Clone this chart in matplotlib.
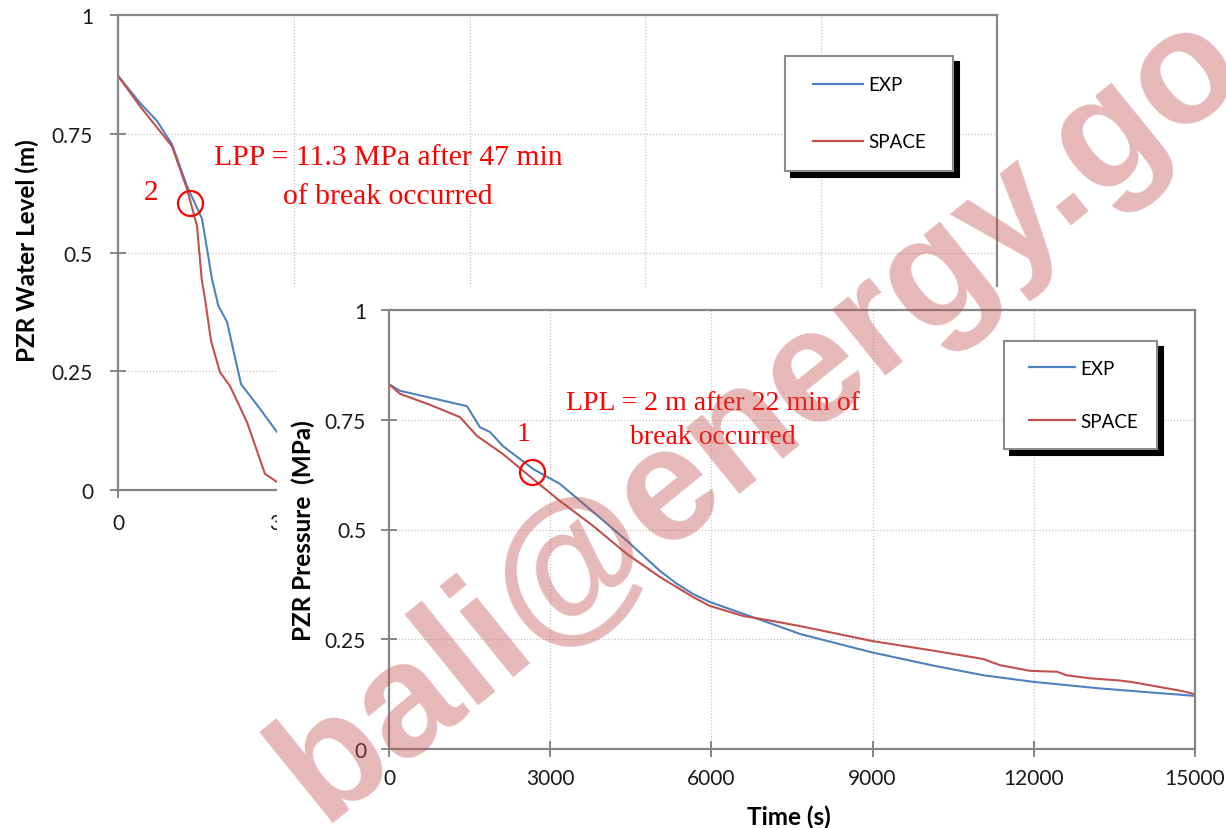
import matplotlib
matplotlib.use('Agg')
import numpy as np
import matplotlib.pyplot as plt
from matplotlib.patches import Rectangle

# Back panel: pressurizer water level
level_t_exp = [0, 375, 665, 920, 1177, 1434, 1604, 1712, 1860, 2099, 2423, 2713, 2850]
level_exp = [0.872, 0.815, 0.777, 0.728, 0.640, 0.571, 0.444, 0.388, 0.354, 0.223, 0.171, 0.122, 0.105]
level_t_space = [0, 375, 920, 1177, 1348, 1428, 1485, 1587, 1740, 1911, 2201, 2508, 2713, 2850]
level_space = [0.872, 0.808, 0.724, 0.634, 0.556, 0.444, 0.402, 0.314, 0.248, 0.219, 0.143, 0.034, 0.017, 0.012]

# Front panel: pressurizer pressure
pres_t_exp = [0, 205, 1450, 1693, 1880, 2120, 2680, 3180, 3800, 4430, 5040, 5360, 5660, 5970,
              6590, 7220, 7650, 8990, 10130, 11060, 11990, 13230, 14160, 15000]
pres_exp = [0.831, 0.816, 0.781, 0.733, 0.722, 0.690, 0.638, 0.604, 0.540, 0.474, 0.406, 0.376,
            0.353, 0.335, 0.308, 0.281, 0.262, 0.220, 0.190, 0.168, 0.153, 0.138, 0.129, 0.121]
pres_t_space = [0, 205, 763, 1320, 1640, 2120, 2680, 3180, 3800, 4430, 5040, 5660, 5970, 6590,
                7030, 7650, 8990, 10130, 11060, 11370, 11930, 12430, 12610, 13050, 13600, 13850,
                14350, 14720, 15000]
pres_space = [0.831, 0.809, 0.784, 0.756, 0.713, 0.672, 0.615, 0.565, 0.508, 0.444, 0.392, 0.346,
              0.326, 0.303, 0.294, 0.280, 0.246, 0.224, 0.205, 0.191, 0.178, 0.176, 0.168, 0.161,
              0.156, 0.152, 0.141, 0.133, 0.125]

x_ticks = [0, 3000, 6000, 9000, 12000, 15000]
y_ticks = [0, 0.25, 0.5, 0.75, 1]
y_tick_labels = ['0', '0.25', '0.5', '0.75', '1']

BLUE = '#4F81BD'
RED = '#C0504D'
AXIS_GRAY = '#868686'
W, H = 1226, 829

plt.rcParams['font.family'] = ['Lato', 'DejaVu Sans']

fig = plt.figure(figsize=(W / 100, H / 100), dpi=100)


def px_axes(left, top, right, bottom):
    return fig.add_axes([left / W, 1 - bottom / H, (right - left) / W, (bottom - top) / H])


def style_axes(ax, ypad, xpad):
    ax.set_xlim(0, 15000)
    ax.set_ylim(0, 1)
    ax.set_xticks(x_ticks)
    ax.set_yticks(y_ticks)
    ax.set_yticklabels(y_tick_labels)
    ax.grid(True, color='#c4c4c4', linestyle=(0, (1, 1.5)), linewidth=0.9)
    ax.set_axisbelow(True)
    for sp in ax.spines.values():
        sp.set_color(AXIS_GRAY)
        sp.set_linewidth(1.6)
    ax.tick_params(direction='inout', length=11, width=1.4, color=AXIS_GRAY,
                   labelsize=15, labelcolor='#1a1a1a')
    ax.tick_params(axis='y', pad=ypad)
    ax.tick_params(axis='x', pad=xpad)


def add_legend(ax, anchor, spacing, bpad, hlen, shift):
    leg = ax.legend(loc='upper left', bbox_to_anchor=anchor, mode='expand',
                    borderaxespad=0, fontsize=13.5, handlelength=hlen, handletextpad=0.27,
                    labelspacing=spacing, borderpad=bpad, fancybox=False, framealpha=1,
                    edgecolor='#8c8c8c',
                    shadow={'ox': 4.2, 'oy': -4.2, 'color': 'black', 'alpha': 1})
    leg.get_frame().set_linewidth(1.5)
    for line in leg.get_lines():
        line.set_linewidth(1.6)
        xd = np.asarray(line.get_xdata(), dtype=float)
        line.set_xdata(np.linspace(xd[0] + shift, xd[-1], len(xd)))
    return leg


# ---- back panel ----
ax1 = px_axes(118, 16, 997, 491)
style_axes(ax1, 12.5, 11)
ax1.plot(level_t_exp, level_exp, color=BLUE, lw=1.5, label='EXP')
ax1.plot(level_t_space, level_space, color=RED, lw=1.5, label='SPACE')
ax1.plot([1229], [0.604], marker='o', ms=18, mfc='none', mec='red', mew=1.6)
ax1.text(563, 0.627, '2', color='red', fontsize=21, family='Liberation Serif',
         ha='center', va='center')
ax1.text(4608, 0.701, 'LPP = 11.3 MPa after 47 min', color='red', fontsize=21.3,
         family='Liberation Serif', ha='center', va='center')
ax1.text(4608, 0.619, 'of break occurred', color='red', fontsize=21.3,
         family='Liberation Serif', ha='center', va='center')
ax1.set_ylabel('PZR Water Level (m)', fontsize=17.5, fontweight='bold', va='center')
ax1.yaxis.set_label_coords((27 - 118) / 879, 0.507)
add_legend(ax1, (0.759, 0.5, 0.191, 0.414), 2.12, 1.1, 3.06, 5.3)

# white block that the front panel sits on
fig.add_artist(Rectangle((277 / W, 0), 1 - 277 / W, 1 - 288 / H, transform=fig.transFigure,
                         facecolor='white', edgecolor='none', zorder=0.5))

# ---- front panel ----
ax2 = px_axes(389, 311, 1195, 750)
ax2.set_zorder(1)
style_axes(ax2, 11, 8)
ax2.plot(pres_t_exp, pres_exp, color=BLUE, lw=1.5, label='EXP')
ax2.plot(pres_t_space, pres_space, color=RED, lw=1.5, label='SPACE')
ax2.plot([2661], [0.631], marker='o', ms=18, mfc='none', mec='red', mew=1.6)
ax2.text(2512, 0.718, '1', color='red', fontsize=20, family='Liberation Serif',
         ha='center', va='center')
ax2.text(6030, 0.790, 'LPL = 2 m after 22 min of', color='red', fontsize=20,
         family='Liberation Serif', ha='center', va='center')
ax2.text(6030, 0.711, 'break occurred', color='red', fontsize=20,
         family='Liberation Serif', ha='center', va='center')
ax2.set_ylabel('PZR Pressure  (MPa)', fontsize=17.5, fontweight='bold', va='center')
ax2.yaxis.set_label_coords((303 - 389) / 806, 0.50)
ax2.set_xlabel('Time (s)', fontsize=17.5, fontweight='bold', va='center')
ax2.xaxis.set_label_coords(0.496, -0.153)
add_legend(ax2, (0.763, 0.5, 0.19, 0.429), 1.92, 1.0, 2.79, 4.5)

# watermark
fig.text(785 / W, 1 - 448 / H, 'bali@energy.go', rotation=39, rotation_mode='anchor',
         ha='center', va='baseline', fontsize=116, fontweight='bold',
         family='Liberation Sans', color=RED, alpha=0.4, zorder=10)

fig.savefig('out.png', dpi=100)
